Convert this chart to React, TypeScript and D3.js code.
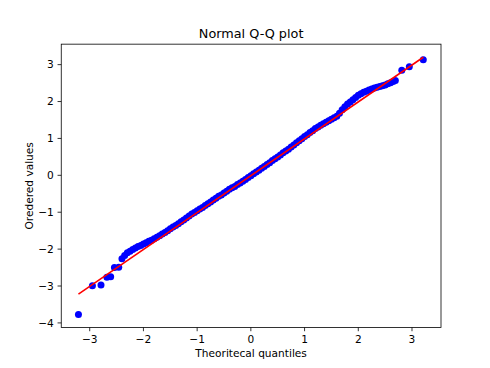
import React from 'react';
import * as d3 from 'd3';

// values: theoretical quantile -> ordered value
const theoretical = [
  -3.21, -2.95, -2.79, -2.68, -2.61, -2.54, -2.46, -2.40,
  -2.35, -2.30, -2.25, -2.20, -2.15, -2.10, -2.05, -2.00, -1.95, -1.90,
  -1.85, -1.80, -1.75, -1.70, -1.65, -1.60, -1.55, -1.50, -1.45, -1.40,
  -1.35, -1.30, -1.25, -1.20, -1.15, -1.10, -1.05, -1.00, -0.95, -0.90,
  -0.85, -0.80, -0.75, -0.70, -0.65, -0.60, -0.55, -0.50, -0.45, -0.40,
  -0.35, -0.30, -0.25, -0.20, -0.15, -0.10, -0.05, 0.00, 0.05, 0.10,
  0.15, 0.20, 0.25, 0.30, 0.35, 0.40, 0.45, 0.50, 0.55, 0.60,
  0.65, 0.70, 0.75, 0.80, 0.85, 0.90, 0.95, 1.00, 1.05, 1.10,
  1.15, 1.20, 1.25, 1.30, 1.35, 1.40, 1.45, 1.50, 1.55, 1.60,
  1.65, 1.70, 1.75, 1.80, 1.85, 1.90, 1.95, 2.00, 2.05, 2.10,
  2.15, 2.20, 2.25, 2.30, 2.35, 2.40, 2.45, 2.50, 2.55, 2.60,
  2.65, 2.69, 2.81, 2.95, 3.21,
];
const ordered = [
  -3.77, -2.99, -2.97, -2.76, -2.75, -2.50, -2.49, -2.26,
  -2.17, -2.10, -2.06, -2.01, -1.97, -1.93, -1.90, -1.86, -1.83, -1.79,
  -1.76, -1.72, -1.68, -1.64, -1.59, -1.55, -1.50, -1.45, -1.40, -1.36,
  -1.31, -1.26, -1.21, -1.16, -1.10, -1.05, -1.01, -0.96, -0.91, -0.87,
  -0.82, -0.77, -0.72, -0.67, -0.62, -0.57, -0.53, -0.48, -0.43, -0.38,
  -0.34, -0.30, -0.25, -0.21, -0.16, -0.11, -0.06, -0.01, 0.04, 0.09,
  0.14, 0.19, 0.24, 0.29, 0.34, 0.40, 0.45, 0.50, 0.55, 0.61,
  0.66, 0.71, 0.77, 0.82, 0.88, 0.94, 0.99, 1.05, 1.10, 1.16,
  1.21, 1.27, 1.31, 1.36, 1.40, 1.44, 1.48, 1.52, 1.56, 1.60,
  1.68, 1.78, 1.86, 1.93, 1.99, 2.05, 2.11, 2.17, 2.21, 2.25,
  2.28, 2.31, 2.34, 2.37, 2.39, 2.41, 2.43, 2.45, 2.48, 2.51,
  2.54, 2.57, 2.85, 2.94, 3.13,
];
// least squares fit line
const fitSlope = 1.0;
const fitIntercept = -0.01;

const xTicks = [-3, -2, -1, 0, 1, 2, 3];
const yTicks = [-4, -3, -2, -1, 0, 1, 2, 3];

const W = 490;
const H = 368;
const font = 'DejaVu Sans, sans-serif';
const fmt = (v: number) => (v < 0 ? '\u2212' + Math.abs(v) : String(v));

export default function App() {
  const left = 61.25, right = 441, top = 44.16, bottom = 327.52;
  const x = d3.scaleLinear().domain([-3.53, 3.54]).range([left, right]);
  const y = d3.scaleLinear().domain([-4.125, 3.555]).range([bottom, top]);

  const points = theoretical.map((t, i) => [t, ordered[i]] as [number, number]);
  const xs = d3.extent(theoretical) as [number, number];
  const line = d3.line<number>()
    .x(d => x(d))
    .y(d => y(fitSlope * d + fitIntercept));

  return (
    <svg width={W} height={H} style={{ display: 'block', margin: -8, background: '#fff' }}>
      <rect x={0} y={0} width={W} height={H} fill="#fff" />
      <g>
        {points.map((p, i) => (
          <circle key={i} cx={x(p[0])} cy={y(p[1])} r={3.5} fill="#0000ff" />
        ))}
      </g>
      <path d={line(xs) || ''} fill="none" stroke="#ff0000" strokeWidth={1.6} />
      <rect x={left} y={top} width={right - left} height={bottom - top}
        fill="none" stroke="#000" strokeWidth={0.8} />
      {xTicks.map(t => (
        <g key={t} transform={`translate(${x(t)},${bottom})`}>
          <line y2={3.7} stroke="#000" strokeWidth={0.8} />
          <text y={15.3} textAnchor="middle" fontFamily={font} fontSize={10.6}>{fmt(t)}</text>
        </g>
      ))}
      {yTicks.map(t => (
        <g key={t} transform={`translate(${left},${y(t)})`}>
          <line x2={-3.7} stroke="#000" strokeWidth={0.8} />
          <text x={-7.4} dy="0.35em" textAnchor="end" fontFamily={font} fontSize={10.6}>{fmt(t)}</text>
        </g>
      ))}
      <text x={(left + right) / 2} y={37.8} textAnchor="middle" fontFamily={font} fontSize={12.8}>
        Normal Q-Q plot
      </text>
      <text x={(left + right) / 2} y={357} textAnchor="middle" fontFamily={font} fontSize={10.6}>
        Theoritecal quantiles
      </text>
      <text transform={`translate(33,${(top + bottom) / 2}) rotate(-90)`} textAnchor="middle"
        fontFamily={font} fontSize={10.6}>
        Oredered values
      </text>
    </svg>
  );
}
